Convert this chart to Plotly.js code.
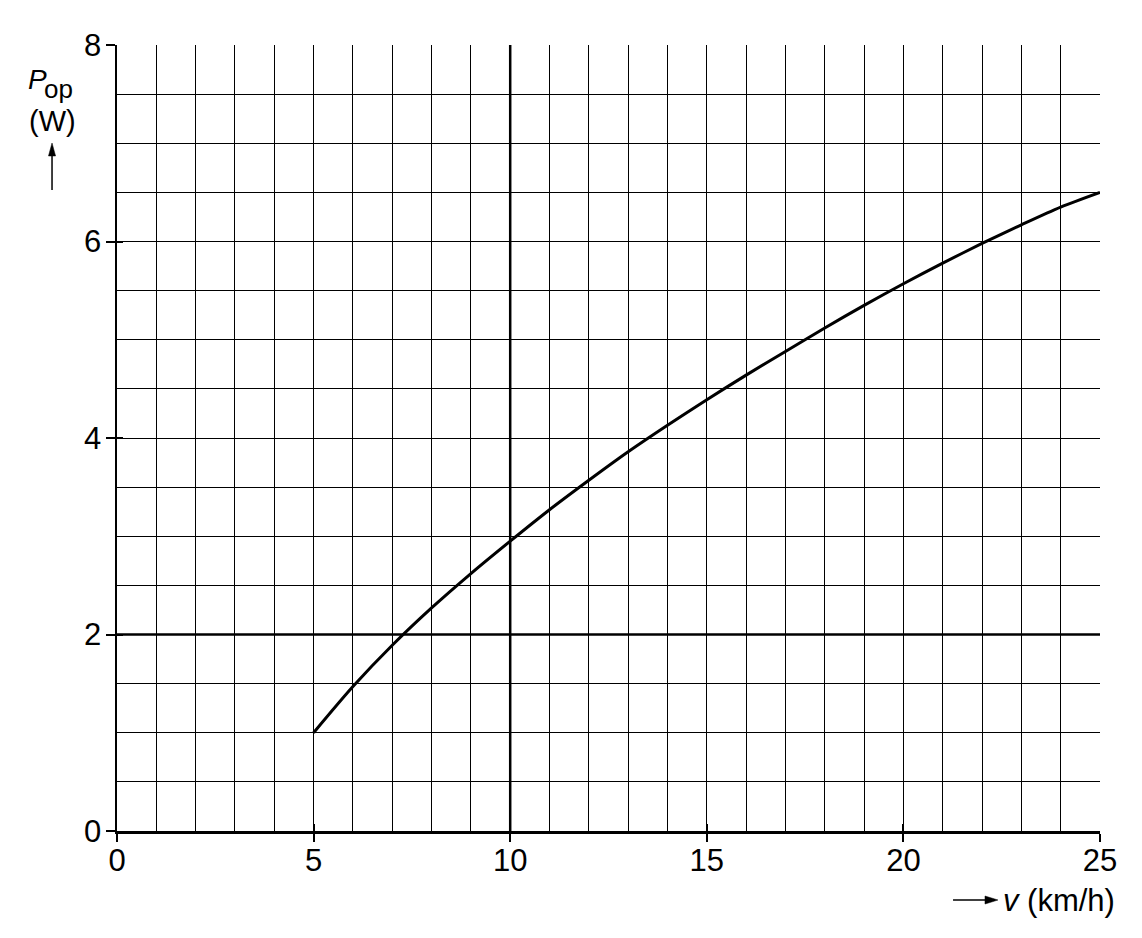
<!DOCTYPE html>
<html>
<head>
<meta charset="utf-8">
<script src="https://cdn.plot.ly/plotly-3.0.1.min.js"></script>
<style>
  html, body { margin: 0; padding: 0; background: #fff; }
  #chart { width: 1142px; height: 938px; }
</style>
</head>
<body>
<div id="chart"></div>
<script>
// speed v (km/h) and output power P_op (W)
var speed = [5, 6, 7, 8, 9, 10, 11, 12, 13, 14, 15, 16, 17, 18, 19, 20, 21, 22, 23, 24, 25];
var power = [1.0, 1.47, 1.89, 2.27, 2.62, 2.95, 3.27, 3.57, 3.86, 4.13, 4.39, 4.64, 4.88, 5.12, 5.35, 5.57, 5.78, 5.98, 6.17, 6.35, 6.50];

var xTicks = [0, 5, 10, 15, 20, 25];
var yTicks = [0, 2, 4, 6, 8];

var fontFam = '"Liberation Sans", Arial, sans-serif';

var trace = {
  x: speed,
  y: power,
  mode: 'lines',
  line: { color: '#000', width: 3, shape: 'spline', smoothing: 0.8 },
  hoverinfo: 'skip',
  showlegend: false
};

// invisible trace on the overlay axes so the inner half of each tick is drawn
var dummy = {
  x: [0], y: [0], xaxis: 'x2', yaxis: 'y2',
  mode: 'markers', marker: { opacity: 0 }, hoverinfo: 'skip', showlegend: false
};

// arrows drawn as shapes (paper coords)
function arrowShapes() {
  return [
    // up arrow under (W)
    { type: 'line', xref: 'paper', yref: 'paper', x0: -0.0661, x1: -0.0661, y0: 0.8155, y1: 0.866,
      line: { color: '#000', width: 1.5 } },
    { type: 'path', xref: 'paper', yref: 'paper',
      path: 'M -0.0661 0.8753 L -0.0697 0.8588 L -0.0625 0.8588 Z',
      fillcolor: '#000', line: { color: '#000', width: 0.5 } },
    // right arrow before v
    { type: 'line', xref: 'paper', yref: 'paper', x0: 0.8505, x1: 0.888, y0: -0.0878, y1: -0.0878,
      line: { color: '#000', width: 1.5 } },
    { type: 'path', xref: 'paper', yref: 'paper',
      path: 'M 0.8962 -0.0878 L 0.8830 -0.0827 L 0.8830 -0.0929 Z',
      fillcolor: '#000', line: { color: '#000', width: 0.5 } }
  ];
}

var layout = {
  width: 1142,
  height: 938,
  margin: { l: 117, r: 42, t: 45, b: 107 },
  paper_bgcolor: '#fff',
  plot_bgcolor: '#fff',
  font: { family: fontFam, size: 31, color: '#000' },
  xaxis: {
    range: [0, 25],
    tickvals: xTicks,
    ticks: 'outside', ticklen: 8, tickwidth: 2, tickcolor: '#000',
    ticklabelstandoff: -8,
    showgrid: true, gridcolor: '#000', gridwidth: 1,
    minor: { dtick: 1, showgrid: true, gridcolor: '#000', gridwidth: 1 },
    showline: true, linecolor: '#000', linewidth: 2.5,
    zeroline: false, fixedrange: true
  },
  yaxis: {
    range: [0, 8],
    tickvals: yTicks,
    ticks: 'outside', ticklen: 9, tickwidth: 2, tickcolor: '#000',
    ticklabelstandoff: -2,
    showgrid: true, gridcolor: '#000', gridwidth: 1,
    minor: { dtick: 0.5, showgrid: true, gridcolor: '#000', gridwidth: 1 },
    showline: true, linecolor: '#000', linewidth: 2.5,
    zeroline: false, fixedrange: true
  },
  xaxis2: {
    overlaying: 'x', matches: 'x', range: [0, 25], tickvals: xTicks,
    ticks: 'inside', ticklen: 7, tickwidth: 2, tickcolor: '#000',
    showticklabels: false, showgrid: false, zeroline: false, anchor: 'y2'
  },
  yaxis2: {
    overlaying: 'y', matches: 'y', range: [0, 8], tickvals: yTicks,
    ticks: 'inside', ticklen: 6, tickwidth: 2, tickcolor: '#000',
    showticklabels: false, showgrid: false, zeroline: false, anchor: 'x2'
  },
  shapes: [
    { type: 'line', xref: 'x', yref: 'paper', x0: 10, x1: 10, y0: 0, y1: 1,
      line: { color: '#000', width: 2.5 } },
    { type: 'line', xref: 'paper', yref: 'y', x0: 0, x1: 1, y0: 2, y1: 2,
      line: { color: '#000', width: 2.5 } }
  ].concat(arrowShapes()),
  annotations: [
    { xref: 'paper', yref: 'paper', x: -0.0707, y: 0.956, xanchor: 'right', yanchor: 'middle',
      text: '<i>P</i>', showarrow: false, borderpad: 0, font: { size: 28 } },
    { xref: 'paper', yref: 'paper', x: -0.0753, y: 0.9435, xanchor: 'left', yanchor: 'middle',
      text: 'op', showarrow: false, borderpad: 0, font: { size: 26 } },
    { xref: 'paper', yref: 'paper', x: -0.0661, y: 0.903, xanchor: 'center', yanchor: 'middle',
      text: '(W)', showarrow: false, borderpad: 0, font: { size: 29 } },
    { xref: 'paper', yref: 'paper', x: 0.9005, y: -0.0878, xanchor: 'left', yanchor: 'middle',
      text: '<i>v</i> (km/h)', showarrow: false, borderpad: 0, font: { size: 31 } }
  ]
};

Plotly.newPlot('chart', [trace, dummy], layout, { displayModeBar: false, staticPlot: true });
</script>
</body>
</html>
